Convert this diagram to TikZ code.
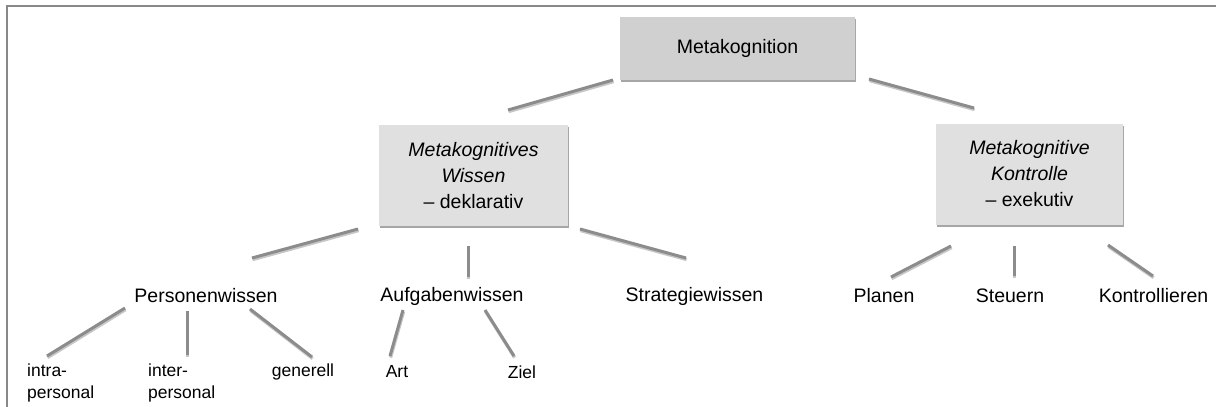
\documentclass[tikz,border=0pt]{standalone}
\usepackage{fontspec}
\setmainfont{Liberation Sans}
\usetikzlibrary{shadows}
\definecolor{linegray}{HTML}{8C8C8C}
\definecolor{framegray}{HTML}{888888}
\definecolor{topfill}{HTML}{D0D0D0}
\definecolor{boxfill}{HTML}{E0E0E0}
\tikzset{
  topbox/.style={fill=topfill, minimum width=235pt, minimum height=63pt, inner sep=0pt,
    font=\fontsize{19.5}{23.5}\selectfont,
    drop shadow={shadow xshift=0.6pt, shadow yshift=-2pt, opacity=0.35, fill=black}},
  midbox/.style={fill=boxfill, minimum height=101pt, inner sep=0pt, align=center,
    font=\fontsize{19.5}{23.5}\selectfont,
    drop shadow={shadow xshift=0.6pt, shadow yshift=-2pt, opacity=0.35, fill=black}},
  lvlthree/.style={inner sep=0pt, font=\fontsize{19.5}{23.5}\selectfont},
  lvlfour/.style={inner sep=0pt, align=left, font=\fontsize{17.5}{21}\selectfont},
  conn/.style={draw=linegray, line width=3pt,
    preaction={draw=black!22, line width=3.2pt, transform canvas={shift={(0.6pt,-1.6pt)}}}},
  frame/.style={draw=framegray, line width=2pt}
}
\begin{document}
\begin{tikzpicture}[x=1pt, y=-1pt]
\useasboundingbox (0,0) rectangle (1216,407);
\fill[white] (0,0) rectangle (1216,407);
% frame (top and left edges only)
\coordinate (ftl) at (6.5,6);
\coordinate (ftr) at (1216,6);
\coordinate (fbl) at (6.5,407);
\draw[frame] (fbl) -- (ftl) -- (ftr);

% nodes
\node[topbox] (mk) at (737.5,48.5) {Metakognition};
\node[midbox, minimum width=189pt] (mw) at (473.5,175.5) {\textit{Metakognitives}\\[2.5pt]\textit{Wissen}\\[2.5pt]– deklarativ};
\node[midbox, minimum width=187pt] (mc) at (1029.5,174) {\textit{Metakognitive}\\[2.5pt]\textit{Kontrolle}\\[2.5pt]– exekutiv};

\node[lvlthree] (pw) at (206,296) {Personenwissen};
\node[lvlthree] (aw) at (452,296) {Aufgabenwissen};
\node[lvlthree] (sw) at (694.5,296) {Strategiewissen};
\node[lvlthree] (pl) at (884,296) {Planen};
\node[lvlthree] (st) at (1010,296) {Steuern};
\node[lvlthree] (ko) at (1153.5,296) {Kontrollieren};

\node[lvlfour, anchor=west] (intra) at (27,383) {intra-\\[1pt]personal};
\node[lvlfour, anchor=west] (inter) at (148,383) {inter-\\[1pt]personal};
\node[lvlfour] (gen) at (303,372) {generell};
\node[lvlfour] (art) at (397,372) {Art};
\node[lvlfour] (ziel) at (522,372) {Ziel};

% connectors
\draw[conn] ([shift={(-124.5,31.5)}]mk.center) -- ([shift={(34.5,-65.5)}]mw.center);
\draw[conn] ([shift={(131.5,30.5)}]mk.center) -- ([shift={(-55.5,-66)}]mc.center);

\draw[conn] ([shift={(-115.5,53.5)}]mw.center) -- ([shift={(46,-38)}]pw.center);
\draw[conn] ([shift={(-5.5,70.5)}]mw.center) -- ([shift={(16,-19)}]aw.center);
\draw[conn] ([shift={(106.5,53.5)}]mw.center) -- ([shift={(-8.5,-38)}]sw.center);

\draw[conn] ([shift={(-78.5,72)}]mc.center) -- ([shift={(7,-19)}]pl.center);
\draw[conn] ([shift={(-15.5,72)}]mc.center) -- ([shift={(4,-20)}]st.center);
\draw[conn] ([shift={(78.5,71)}]mc.center) -- ([shift={(-0.5,-20)}]ko.center);

\draw[conn] ([shift={(-81,12)}]pw.center) -- ([shift={(20,-27)}]intra.west);
\draw[conn] ([shift={(-19,15)}]pw.center) -- ([shift={(39,-28)}]inter.west);
\draw[conn] ([shift={(44,13)}]pw.center) -- ([shift={(9,-15)}]gen.center);

\draw[conn] ([shift={(-49,14)}]aw.center) -- ([shift={(-7,-16)}]art.center);
\draw[conn] ([shift={(33,14)}]aw.center) -- ([shift={(-8,-16)}]ziel.center);
\end{tikzpicture}
\end{document}
